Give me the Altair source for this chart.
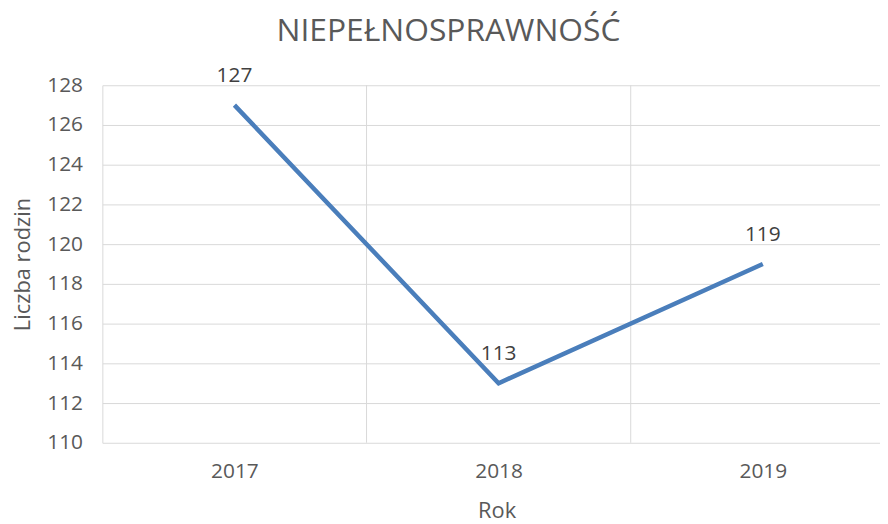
import altair as alt
import pandas as pd

years = [2017, 2018, 2019]
values = [127, 113, 119]
boundaries = [2017.5, 2018.5]
y_ticks = list(range(110, 129, 2))

df = pd.DataFrame({"Rok": years, "Liczba rodzin": values})
bdf = pd.DataFrame({"b": boundaries})

FONT = "Open Sans"
GRID = "#d9d9d9"
TXT = "#595959"

xscale = alt.Scale(domain=[2016.5, 2016.5 + 783 / 266], nice=False, zero=False)
yscale = alt.Scale(domain=[110, 128], nice=False, zero=False)

x_axis = alt.Axis(
    values=years, format="d", grid=False, ticks=False, domain=False,
    labelOverlap=False,
    labelFont=FONT, labelFontSize=21, labelColor=TXT, labelPadding=18,
    title="Rok", titleFont=FONT, titleFontSize=22, titleFontWeight="normal",
    titleColor=TXT, titleY=68, titleX=397, titleBaseline="middle",
)
y_axis = alt.Axis(
    values=y_ticks, grid=True, gridColor=GRID, gridWidth=1, ticks=False,
    domain=True, domainColor=GRID, domainWidth=1, labelOverlap=False,
    labelFont=FONT, labelFontSize=21, labelColor=TXT, labelPadding=20,
    title="Liczba rodzin", titleFont=FONT, titleFontSize=22,
    titleFontWeight="normal", titleColor=TXT,
    titleX=-80, titleY=180, titleBaseline="middle", titleAngle=-90,
)

rules = alt.Chart(bdf).mark_rule(color=GRID, strokeWidth=1).encode(
    x=alt.X("b:Q", scale=xscale, axis=x_axis)
)

line = alt.Chart(df).mark_line(color="#4a7ebb", strokeWidth=4.5, clip=True).encode(
    x=alt.X("Rok:Q", scale=xscale, axis=x_axis),
    y=alt.Y("Liczba rodzin:Q", scale=yscale, axis=y_axis),
)

labels = alt.Chart(df).mark_text(
    font=FONT, fontSize=21, color="#404040", dy=-29
).encode(
    x=alt.X("Rok:Q", scale=xscale, axis=x_axis),
    y=alt.Y("Liczba rodzin:Q", scale=yscale, axis=y_axis),
    text=alt.Text("Liczba rodzin:Q", format="d"),
)

chart = (
    alt.layer(rules, line, labels)
    .properties(
        width=783,
        height=360,
        autosize=alt.AutoSizeParams(type="none"),
        padding={"left": 95, "top": 76, "right": 0, "bottom": 80},
        title=alt.TitleParams(
            "NIEPEŁNOSPRAWNOŚĆ", font=FONT, fontSize=32, fontWeight="normal",
            color=TXT, anchor="middle", dx=-43, offset=18,
        ),
    )
    .configure_view(stroke=None)
)

chart.save("out.html", embed_options={"renderer": "svg", "actions": False})
